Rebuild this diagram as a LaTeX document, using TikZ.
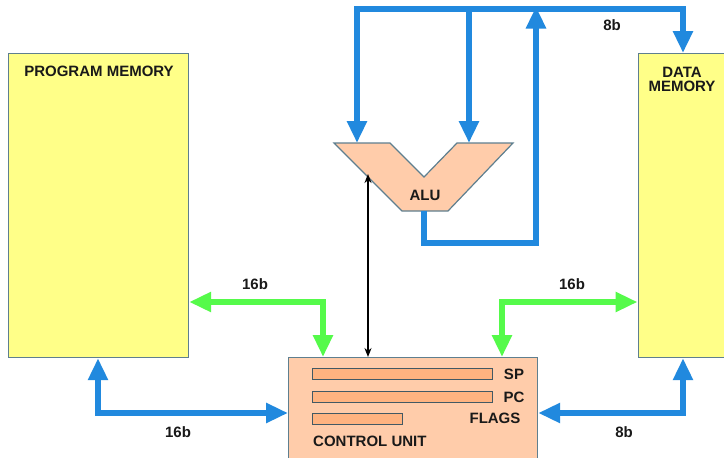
\documentclass[tikz,border=0pt]{standalone}
\usepackage{fontspec}
\setmainfont{Liberation Sans}
\usetikzlibrary{arrows.meta}
\definecolor{memfill}{HTML}{FFFF88}
\definecolor{edgec}{HTML}{5E7F8F}
\definecolor{cufill}{HTML}{FFCCAA}
\definecolor{regfill}{HTML}{FFB380}
\definecolor{busblue}{HTML}{2189DE}
\definecolor{busgreen}{HTML}{55FA4A}
\tikzset{
  mem/.style={draw=edgec, line width=1.2pt, fill=memfill, anchor=north west, inner sep=0pt},
  cubox/.style={draw=edgec, line width=1.2pt, fill=cufill, anchor=north west, inner sep=0pt},
  reg/.style={draw=edgec!70!black, line width=1pt, fill=regfill, anchor=north west, inner sep=0pt, minimum height=11pt},
  lbl/.style={font=\fontsize{15}{15}\selectfont\bfseries, inner sep=0pt, text=black!90},
  bus/.style={draw=busblue, line width=5.5pt, line join=miter, line cap=butt},
  gbus/.style={draw=busgreen, line width=5.5pt, line join=miter, line cap=butt},
  tip/.style={-{Triangle[length=22pt,width=19pt]}},
  tips/.style={{Triangle[length=22pt,width=19pt]}-{Triangle[length=22pt,width=19pt]}},
}
\begin{document}
\begin{tikzpicture}[x=1pt,y=-1pt]
\useasboundingbox (0,0) rectangle (724,458);
\fill[white] (0,0) rectangle (724,458);

% memories
\node[mem, minimum width=180pt, minimum height=304pt] (pm) at (8,53) {};
\node[mem, minimum width=95pt, minimum height=304pt] (dm) at (637.5,53) {};
\node[lbl] (pmtxt) at (99,71) {PROGRAM MEMORY};
\node[lbl, align=center, font=\fontsize{15}{14}\selectfont\bfseries] (dmtxt) at (682,79) {DATA\\MEMORY};

% control unit
\node[cubox, minimum width=249pt, minimum height=112pt] (cu) at (288,357) {};
\node[reg, minimum width=180pt] (sp) at (312,368) {};
\node[reg, minimum width=180pt] (pc) at (312,391) {};
\node[reg, minimum width=90pt] (fl) at (312,413) {};
\node[lbl] (sptxt) at (514,374) {SP};
\node[lbl] (pctxt) at (514,397) {PC};
\node[lbl] (fltxt) at (495,418) {FLAGS};
\node[lbl, anchor=west] (cutxt) at (313,441) {CONTROL UNIT};

% ALU
\coordinate (a1) at (334,143);
\coordinate (a2) at (390,143);
\coordinate (a3) at (424,177);
\coordinate (a4) at (457,143);
\coordinate (a5) at (513,143);
\coordinate (a6) at (448,211);
\coordinate (a7) at (402,211);
\draw[draw=edgec, line width=1.2pt, fill=cufill, line join=miter] (a1) -- (a2) -- (a3) -- (a4) -- (a5) -- (a6) -- (a7) -- cycle;
\node[lbl] (alutxt) at (425,195) {ALU};
\coordinate (inA) at (357,143);
\coordinate (inB) at (469,143);
\coordinate (aluout) at (424,211);

% top data bus
\coordinate (t1) at (357,9);
\coordinate (t2) at (683,9);
\coordinate (t3) at (469,9);
\coordinate (t4) at (536,9);
\coordinate (o1) at (424,243);
\coordinate (o2) at (536,243);
\draw[bus, tips] (inA) -- (t1) -- (t2) -- (dm.north -| t2);
\draw[bus, tip] (t3) -- (inB);
\draw[bus, tip] (aluout) -- (o1) -- (o2) -- ([yshift=2.5pt]t4);
\node[lbl] (l8a) at (612,25) {8b};

% black control line
\coordinate (k1) at (368,174);
\draw[line width=2.4pt, {Stealth[length=9pt,width=7pt]}-{Stealth[length=9pt,width=7pt]}] (k1) -- (cu.north -| k1);

% green buses
\coordinate (g1) at (323,302);
\coordinate (g2) at (502,302);
\draw[gbus, tips] (pm.east |- g1) -- (g1) -- (cu.north -| g1);
\draw[gbus, tips] (dm.west |- g2) -- (g2) -- (cu.north -| g2);
\node[lbl] (l16a) at (255,284) {16b};
\node[lbl] (l16b) at (572,284) {16b};

% lower blue buses
\coordinate (b1) at (98,413);
\coordinate (b2) at (683,413);
\draw[bus, tips] (pm.south -| b1) -- (b1) -- (cu.west |- b1);
\draw[bus, tips] (cu.east |- b2) -- (b2) -- (dm.south -| b2);
\node[lbl] (l16c) at (178,432) {16b};
\node[lbl] (l8b) at (624,432) {8b};
\end{tikzpicture}
\end{document}
